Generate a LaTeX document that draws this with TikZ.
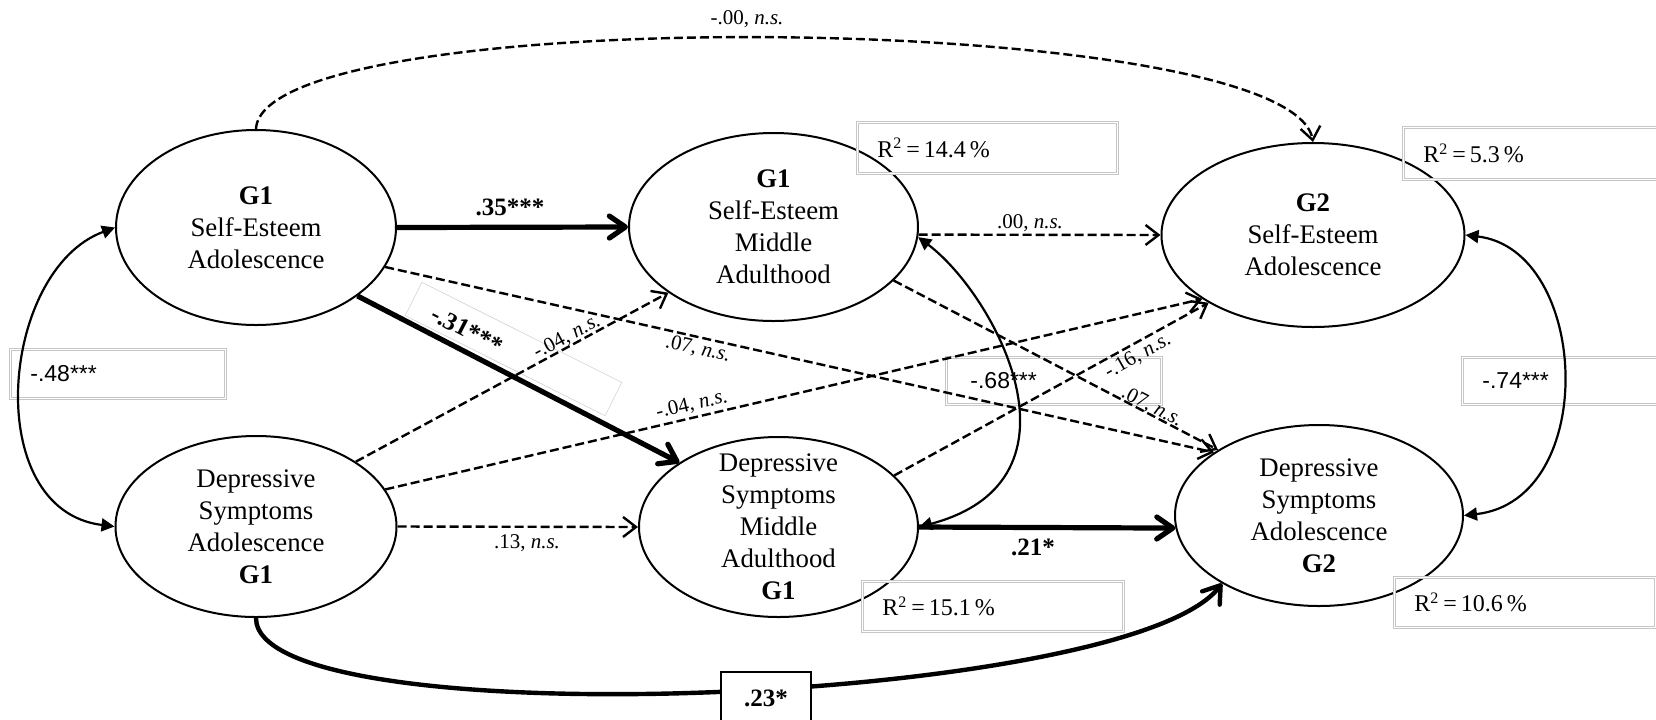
\documentclass[tikz,border=0pt]{standalone}
\usepackage{fontspec}
\setmainfont{Liberation Serif}
\newfontfamily\boxsans{Liberation Sans}
\usetikzlibrary{shapes.geometric,arrows.meta}
\begin{document}
\begin{tikzpicture}[x=0.5pt,y=-0.5pt,
  ell/.style={draw, line width=1pt, ellipse, inner sep=0pt, align=center, font=\fontsize{13.4}{16}\selectfont},
  thickarr/.style={line width=2.6pt, -{Straight Barb[length=8pt,width=11pt,round]}},
  dasharr/.style={line width=1.2pt, dash pattern=on 4.5pt off 2pt, -{Straight Barb[length=6.5pt,width=10pt]}},
  covarr/.style={line width=1.1pt, {Triangle[length=6.5pt,width=6.5pt]}-{Triangle[length=6.5pt,width=6.5pt]}},
  coef/.style={font=\fontsize{12.5}{14}\selectfont\bfseries, inner sep=0pt},
  ns/.style={font=\fontsize{10.5}{12}\selectfont, inner sep=0pt},
  rbox/.style={draw=gray!45, double=white, double distance=0.9pt, line width=0.4pt, anchor=north west, align=left, inner xsep=10pt, inner ysep=0pt, font=\fontsize{12}{14}\selectfont},
  sbox/.style={rbox, font=\boxsans\fontsize{11.5}{13}\selectfont},
  thinbox/.style={draw=gray!35, line width=0.3pt, inner sep=0pt}
]
\useasboundingbox (0,0) rectangle (1656,719);
\fill[white] (0,0) rectangle (1656,719);

% ellipses
\node[ell, minimum width=140pt, minimum height=97.5pt] (E1) at (256,227.5) {\textbf{G1}\\Self-Esteem\\Adolescence};
\node[ell, minimum width=144.5pt, minimum height=94pt] (E2) at (773.5,227) {\textbf{G1}\\Self-Esteem\\Middle\\Adulthood};
\node[ell, minimum width=151.5pt, minimum height=92pt] (E3) at (1313,235) {\textbf{G2}\\Self-Esteem\\Adolescence};
\node[ell, minimum width=140.5pt, minimum height=90.5pt] (E4) at (256,526.5) {Depressive\\Symptoms\\Adolescence\\\textbf{G1}};
\node[ell, minimum width=139.5pt, minimum height=90pt, inner ysep=-8pt] (E5) at (778.5,527) {Depressive\\Symptoms\\Middle\\Adulthood\\\textbf{G1}};
\node[ell, minimum width=144pt, minimum height=90.5pt] (E6) at (1319,515.5) {Depressive\\Symptoms\\Adolescence\\\textbf{G2}};

% thin rotated label box
\node[thinbox, rotate=-26.6, minimum width=111.8pt, minimum height=18.6pt] (b31) at (513.5,349) {};

% coefficient / R2 boxes
\node[rbox, text width=110pt, minimum height=25.5pt] (bR1) at (857,122) {R\textsuperscript{2}\,=\,14.4\,\%};
\node[rbox, text width=114.5pt, minimum height=26pt] (bR2) at (1403,127) {R\textsuperscript{2}\,=\,5.3\,\%};
\node[rbox, text width=110.5pt, minimum height=25pt] (bR3) at (862,581) {R\textsuperscript{2}\,=\,15.1\,\%};
\node[rbox, text width=110.5pt, minimum height=25pt] (bR4) at (1394,577) {R\textsuperscript{2}\,=\,10.6\,\%};
\node[sbox, text width=87.5pt, minimum height=24.5pt] (b48) at (10,349) {-.48***};
\node[sbox, inner xsep=12pt, text width=83.5pt, minimum height=23.5pt] (b68) at (946,357) {-.68***};
\node[sbox, text width=85pt, minimum height=23.5pt] (b74) at (1462,357) {-.74***};

% paths
\draw[thickarr] (E1.east) -- (E2.west);
\draw[thickarr] (E1.-34) -- (E5.147);
\draw[dasharr] (E1.-17) -- (E6.149);
\draw[dasharr] (E2.-24) -- (E6.147);
\draw[dasharr] (E4.33) -- (E2.212);
\draw[dasharr] (E4.16) -- (E3.210);
\draw[dasharr] (E4.east) -- (E5.west);
\draw[dasharr] (E5.24) -- (E3.213);
\draw[dasharr] (E2.-3) -- (E3.west);
\draw[dasharr] (E1.north) .. controls (262,0) and (1290,10) .. (E3.north);
\draw[thickarr] (E5.east) -- (E6.185);
\draw[thickarr, line width=2.2pt] (E4.south) .. controls (256,740) and (1130,705) .. (E6.215);

% covariances
\draw[covarr] (E2.-4) .. controls (995,295) and (1095,480) .. (E5.east);
\draw[covarr] (E1.west) .. controls (0,270) and (-20,510) .. (E4.west);
\draw[covarr] (E3.east) .. controls (1590,250) and (1600,500) .. (E6.east);

% .23 box
\node[draw, line width=0.8pt, fill=white, minimum width=45pt, minimum height=26.5pt, inner sep=0pt, coef] (b23) at (766,698.5) {.23*};

% labels
\node[coef] (l35) at (510,207) {.35***};
\node[coef, rotate=-27.2] (l31) at (467,330) {-.31***};
\node[ns, rotate=-12.7] (l07a) at (698,349) {.07, \textit{n.s.}};
\node[ns, rotate=-27.3] (l07b) at (1152,407) {.07, \textit{n.s.}};
\node[ns, rotate=28.1] (l04a) at (567,337) {-.04, \textit{n.s.}};
\node[ns, rotate=13.2] (l04b) at (692,405) {-.04, \textit{n.s.}};
\node[ns] (l13) at (527,543) {.13, \textit{n.s.}};
\node[ns, rotate=29.6] (l16) at (1138,356) {-.16, \textit{n.s.}};
\node[ns] (l00) at (1030,223) {.00, \textit{n.s.}};
\node[ns] (l00b) at (747,19) {-.00, \textit{n.s.}};
\node[coef] (l21) at (1033,547) {.21*};
\end{tikzpicture}
\end{document}
